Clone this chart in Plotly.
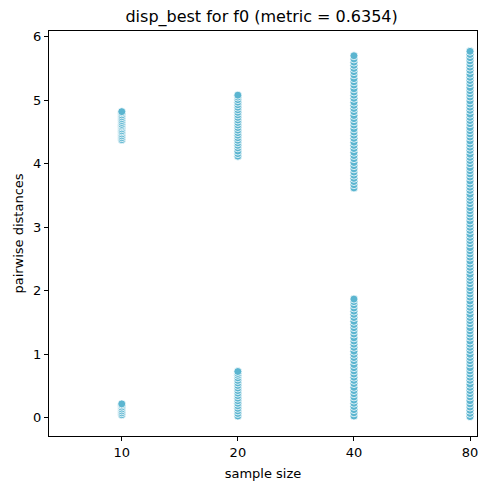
import plotly.graph_objects as go

categories = ["10", "20", "40", "80"]

d10 = [4.38, 4.41, 4.44, 4.47, 4.50, 4.52, 4.55, 4.58, 4.60, 4.62, 4.65, 4.68, 4.71, 4.74, 4.77, 4.80, 4.82,
       0.05, 0.08, 0.11, 0.14, 0.17, 0.20, 0.22]
d20 = [4.12, 4.16, 4.20, 4.25, 4.29, 4.33, 4.37, 4.41, 4.45, 4.49, 4.53, 4.57, 4.61, 4.65, 4.69, 4.73,
       4.77, 4.81, 4.85, 4.89, 4.93, 4.97, 5.01, 5.05, 5.08,
       0.03, 0.07, 0.11, 0.15, 0.19, 0.23, 0.27, 0.31, 0.35, 0.39, 0.43, 0.47, 0.51, 0.55, 0.59,
       0.63, 0.67, 0.70, 0.73]
d40 = [3.62, 3.67, 3.72, 3.77, 3.82, 3.87, 3.92, 3.97, 4.02, 4.08, 4.13, 4.18, 4.24, 4.29, 4.34,
       4.40, 4.45, 4.50, 4.55, 4.61, 4.66, 4.71, 4.76, 4.82, 4.87, 4.92, 4.97, 5.03, 5.08, 5.13,
       5.18, 5.24, 5.29, 5.34, 5.40, 5.45, 5.50, 5.55, 5.60, 5.65, 5.70,
       0.03, 0.08, 0.13, 0.18, 0.23, 0.28, 0.33, 0.38, 0.43, 0.48, 0.54, 0.59, 0.64, 0.69, 0.74,
       0.79, 0.84, 0.90, 0.95, 1.00, 1.05, 1.11, 1.16, 1.21, 1.26, 1.32, 1.37, 1.42, 1.47, 1.52,
       1.58, 1.63, 1.68, 1.73, 1.78, 1.83, 1.87]
d80 = [0.02, 0.07, 0.12, 0.17, 0.22, 0.27, 0.33, 0.38, 0.43, 0.48, 0.53, 0.59, 0.64, 0.69, 0.74,
       0.79, 0.85, 0.90, 0.95, 1.00, 1.06, 1.11, 1.16, 1.21, 1.27, 1.32, 1.37, 1.42, 1.48, 1.53,
       1.58, 1.63, 1.69, 1.74, 1.79, 1.84, 1.90, 1.95, 2.00, 2.05, 2.11, 2.16, 2.21, 2.26, 2.32,
       2.37, 2.42, 2.47, 2.53, 2.58, 2.63, 2.68, 2.74, 2.79, 2.84, 2.89, 2.95, 3.00, 3.05, 3.10,
       3.16, 3.21, 3.26, 3.31, 3.37, 3.42, 3.47, 3.52, 3.58, 3.63, 3.68, 3.73, 3.79, 3.84, 3.89,
       3.94, 4.00, 4.05, 4.10, 4.15, 4.21, 4.26, 4.31, 4.36, 4.42, 4.47, 4.52, 4.57, 4.63, 4.68,
       4.73, 4.78, 4.84, 4.89, 4.94, 4.99, 5.05, 5.10, 5.15, 5.20, 5.26, 5.31, 5.36, 5.41, 5.47,
       5.52, 5.57, 5.62, 5.67, 5.72, 5.77]

series = [d10, d20, d40, d80]

xs, ys = [], []
for cat, vals in zip(categories, series):
    xs += [cat] * len(vals)
    ys += vals

fig = go.Figure(go.Scatter(
    x=xs, y=ys, mode="markers",
    marker=dict(size=8, color="#5bb5d0", line=dict(color="white", width=0.8)),
    showlegend=False,
))

axis_common = dict(
    showline=True, linecolor="black", linewidth=1, mirror=True,
    ticks="outside", ticklen=4, tickcolor="black", showgrid=False, zeroline=False,
    tickfont=dict(family="DejaVu Sans", size=13, color="black"),
)

fig.update_layout(
    width=489, height=490,
    margin=dict(l=49, r=12, t=31, b=54),
    plot_bgcolor="white", paper_bgcolor="white",
    title=dict(text="disp_best for f0 (metric = 0.6354)", x=0.535, xanchor="center",
               y=0.966, yanchor="middle",
               font=dict(family="DejaVu Sans", size=16, color="black")),
    xaxis=dict(type="category", categoryorder="array", categoryarray=categories,
               range=[-0.627, 3.06],
               title=dict(text="sample size", standoff=10,
                          font=dict(family="DejaVu Sans", size=13, color="black")),
               **axis_common),
    yaxis=dict(range=[-0.285, 6.09], tickvals=[0, 1, 2, 3, 4, 5, 6],
               title=dict(text="pairwise distances", standoff=6,
                          font=dict(family="DejaVu Sans", size=13, color="black")),
               **axis_common),
)

fig.write_html("out.html")
